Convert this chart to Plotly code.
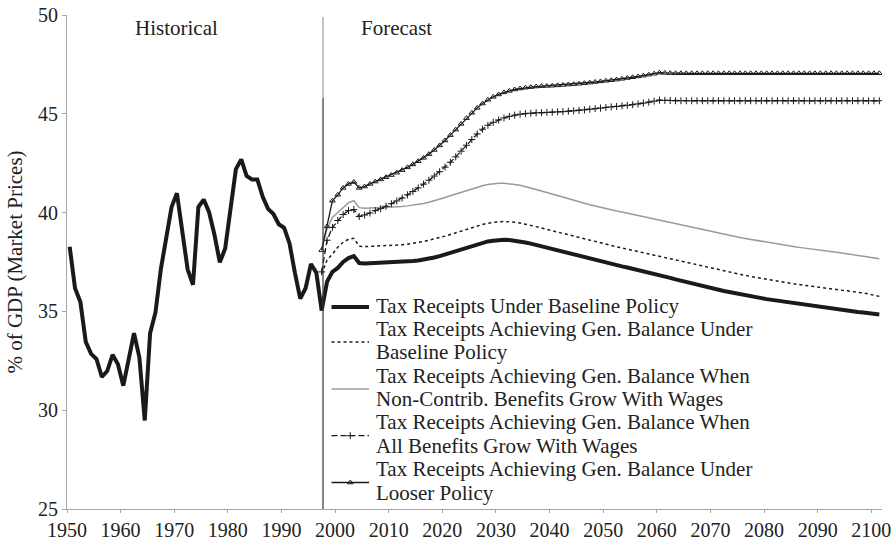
import plotly.graph_objects as go

# ---------------- data ----------------
hist_years = list(range(1950, 1998))
hist_values = [38.27, 36.17, 35.47, 33.46, 32.85, 32.59, 31.68, 31.98, 32.80, 32.33,
               31.24, 32.59, 33.90, 32.67, 29.48, 33.90, 34.95, 37.13, 38.62, 40.28,
               40.98, 39.06, 37.13, 36.35, 40.28, 40.66, 40.02, 38.88, 37.48, 38.18,
               40.28, 42.20, 42.69, 41.85, 41.68, 41.68, 40.80, 40.19, 39.93, 39.41,
               39.23, 38.44, 36.96, 35.65, 36.17, 37.40, 36.96, 35.03]

fc_years = list(range(1997, 2102))

baseline = [35.05, 36.5, 37.0, 37.2, 37.5, 37.7, 37.8, 37.45, 37.42, 37.43,
            37.44, 37.45, 37.46, 37.47, 37.48, 37.50, 37.52, 37.55, 37.58, 37.62,
            37.67, 37.73, 37.80, 37.88, 37.97, 38.06, 38.15, 38.24, 38.33, 38.41,
            38.48, 38.54, 38.58, 38.61, 38.62, 38.61, 38.58, 38.54, 38.49, 38.43,
            38.36, 38.29, 38.22, 38.15, 38.08, 38.01, 37.94, 37.87, 37.80, 37.73,
            37.66, 37.59, 37.52, 37.46, 37.40, 37.34, 37.28, 37.22, 37.16, 37.10,
            37.04, 36.98, 36.91, 36.84, 36.77, 36.70, 36.62, 36.55, 36.48, 36.41,
            36.34, 36.27, 36.21, 36.15, 36.09, 36.03, 35.98, 35.92, 35.87, 35.82,
            35.77, 35.72, 35.67, 35.62, 35.58, 35.53, 35.49, 35.44, 35.40, 35.36,
            35.32, 35.28, 35.25, 35.21, 35.18, 35.14, 35.11, 35.07, 35.04, 35.00,
            34.97, 34.94, 34.91, 34.88, 34.84]

gb_baseline = [36.9, 37.6, 37.9, 38.25, 38.5, 38.65, 38.7, 38.3, 38.28, 38.29,
               38.30, 38.31, 38.32, 38.33, 38.35, 38.37, 38.40, 38.44, 38.49, 38.54,
               38.60, 38.66, 38.73, 38.81, 38.89, 38.98, 39.07, 39.16, 39.25, 39.33,
               39.40, 39.46, 39.51, 39.54, 39.55, 39.54, 39.51, 39.47, 39.42, 39.36,
               39.29, 39.22, 39.15, 39.08, 39.01, 38.94, 38.87, 38.80, 38.73, 38.66,
               38.59, 38.52, 38.45, 38.39, 38.33, 38.27, 38.21, 38.15, 38.09, 38.03,
               37.97, 37.91, 37.85, 37.79, 37.72, 37.65, 37.58, 37.51, 37.45, 37.39,
               37.33, 37.27, 37.21, 37.15, 37.09, 37.04, 36.98, 36.92, 36.87, 36.82,
               36.77, 36.72, 36.67, 36.62, 36.57, 36.53, 36.48, 36.44, 36.40, 36.36,
               36.32, 36.28, 36.24, 36.20, 36.17, 36.13, 36.10, 36.07, 36.04, 36.01,
               35.97, 35.93, 35.88, 35.83, 35.76]

gb_noncontrib = [38.2, 39.2, 39.75, 40.0, 40.3, 40.5, 40.6, 40.25, 40.22, 40.23,
                 40.24, 40.25, 40.26, 40.27, 40.29, 40.31, 40.34, 40.37, 40.41, 40.46,
                 40.52, 40.59, 40.67, 40.76, 40.85, 40.94, 41.03, 41.12, 41.21, 41.29,
                 41.36, 41.42, 41.46, 41.48, 41.48, 41.46, 41.42, 41.38, 41.32, 41.25,
                 41.17, 41.09, 41.01, 40.93, 40.85, 40.77, 40.69, 40.61, 40.54, 40.47,
                 40.40, 40.33, 40.26, 40.20, 40.14, 40.08, 40.03, 39.97, 39.92, 39.86,
                 39.81, 39.75, 39.69, 39.63, 39.57, 39.50, 39.44, 39.38, 39.31, 39.25,
                 39.18, 39.12, 39.06, 39.01, 38.96, 38.90, 38.85, 38.80, 38.74, 38.69,
                 38.64, 38.59, 38.54, 38.50, 38.46, 38.41, 38.37, 38.32, 38.28, 38.24,
                 38.20, 38.16, 38.13, 38.09, 38.06, 38.02, 37.99, 37.96, 37.92, 37.89,
                 37.85, 37.80, 37.76, 37.71, 37.66]

gb_allbenefits = [37.0, 38.6, 39.25, 39.6, 39.9, 40.1, 40.15, 39.8, 39.88, 39.98,
                  40.10, 40.20, 40.32, 40.45, 40.59, 40.74, 40.90, 41.07, 41.25, 41.44,
                  41.64, 41.85, 42.07, 42.30, 42.55, 42.82, 43.11, 43.41, 43.70, 43.98,
                  44.22, 44.42, 44.57, 44.69, 44.79, 44.87, 44.93, 44.98, 45.01, 45.03,
                  45.05, 45.06, 45.07, 45.08, 45.10, 45.11, 45.13, 45.15, 45.17, 45.20,
                  45.23, 45.26, 45.29, 45.32, 45.35, 45.37, 45.40, 45.43, 45.46, 45.50,
                  45.54, 45.59, 45.64, 45.69, 45.68, 45.67, 45.66, 45.66, 45.66, 45.66,
                  45.66, 45.66, 45.66, 45.66, 45.66, 45.66, 45.66, 45.66, 45.66, 45.66,
                  45.66, 45.66, 45.66, 45.66, 45.66, 45.66, 45.66, 45.66, 45.66, 45.66,
                  45.66, 45.66, 45.66, 45.66, 45.66, 45.66, 45.66, 45.66, 45.66, 45.66,
                  45.66, 45.66, 45.66, 45.66, 45.66]

gb_looser = [38.1, 39.3, 40.6, 40.9, 41.25, 41.45, 41.55, 41.25, 41.32, 41.45,
             41.57, 41.68, 41.79, 41.90, 42.02, 42.15, 42.29, 42.44, 42.60, 42.77,
             42.96, 43.17, 43.40, 43.65, 43.92, 44.20, 44.49, 44.78, 45.05, 45.30,
             45.52, 45.71, 45.86, 45.98, 46.08, 46.16, 46.23, 46.28, 46.32, 46.35,
             46.38, 46.40, 46.41, 46.42, 46.44, 46.46, 46.48, 46.50, 46.52, 46.55,
             46.58, 46.61, 46.64, 46.67, 46.70, 46.73, 46.77, 46.81, 46.85, 46.89,
             46.93, 46.98, 47.03, 47.08, 47.07, 47.06, 47.05, 47.05, 47.05, 47.05,
             47.05, 47.05, 47.05, 47.05, 47.05, 47.05, 47.05, 47.05, 47.05, 47.05,
             47.05, 47.05, 47.05, 47.05, 47.05, 47.05, 47.05, 47.05, 47.05, 47.05,
             47.05, 47.05, 47.05, 47.05, 47.05, 47.05, 47.05, 47.05, 47.05, 47.05,
             47.05, 47.05, 47.05, 47.05, 47.05]

legend_labels = [
    "Tax Receipts Under Baseline Policy",
    "Tax Receipts Achieving Gen. Balance Under<br>Baseline Policy",
    "Tax Receipts Achieving Gen. Balance When<br>Non-Contrib. Benefits Grow With Wages",
    "Tax Receipts Achieving Gen. Balance When<br>All Benefits Grow With Wages",
    "Tax Receipts Achieving Gen. Balance Under<br>Looser Policy",
]

x_tick_vals = list(range(1950, 2101, 10))
y_tick_vals = [25, 30, 35, 40, 45, 50]
region_labels = ["Historical", "Forecast"]
region_label_x = [1970.5, 2011.5]
divider_year = 1997.75

# ---------------- styling ----------------
FONT = "Liberation Serif, Times New Roman, serif"
TXT = "#222222"
DARK = "#1a1a1a"
GREY = "#9a9a9a"
AX = "#a6a6a6"

W, H = 896, 541
ML, MR, MT, MB = 67, 14, 15, 32
plot_w = W - ML - MR
plot_h = H - MT - MB


def px_x(p):
    return (p - ML) / plot_w


def px_y(p):
    return (H - MB - p) / plot_h


mid = 0.5  # data points sit in the middle of each year
hx = [y + mid for y in hist_years]
fx = [y + mid for y in fc_years]

styles = [
    dict(line=dict(color=DARK, width=4), mode="lines"),
    dict(line=dict(color=DARK, width=1.5, dash="3px,3px"), mode="lines"),
    dict(line=dict(color=GREY, width=1.5), mode="lines"),
    dict(line=dict(color=DARK, width=1.3, dash="6px,3px"), mode="lines+markers",
         marker=dict(symbol="cross-thin", size=5, line=dict(color=DARK, width=1))),
    dict(line=dict(color=DARK, width=1.3), mode="lines+markers",
         marker=dict(symbol="triangle-up-open", size=5, color=DARK, line=dict(width=1))),
]
series = [baseline, gb_baseline, gb_noncontrib, gb_allbenefits, gb_looser]

fig = go.Figure()

fig.add_trace(go.Scatter(x=hx, y=hist_values, showlegend=False, hoverinfo="skip",
                         **styles[0]))

# draw in an order so the thick baseline stays on top
order = [2, 1, 3, 4, 0]
for i in order:
    fig.add_trace(go.Scatter(x=fx, y=series[i], name=legend_labels[i].replace("<br>", " "),
                             showlegend=False, **styles[i]))

# ---------------- hand-built legend (compact line spacing as in the original) ----
sym_x0, sym_x1 = px_x(331.5), px_x(369)
text_x = px_x(374)
first_line_px = 305.5
line_pitch = 23.4
annotations = []
cur = first_line_px
for i, lab in enumerate(legend_labels):
    lines = lab.split("<br>")
    ys = []
    for j, ln in enumerate(lines):
        ys.append(cur)
        annotations.append(dict(x=text_x, y=px_y(cur), xref="paper", yref="paper",
                                text=ln, showarrow=False, xanchor="left",
                                yanchor="middle",
                                font=dict(family=FONT, size=21, color=TXT)))
        cur += line_pitch
    sym_y = px_y((ys[0] + ys[-1]) / 2 + 1.5)
    st = dict(styles[i])
    fig.add_trace(go.Scatter(x=[sym_x0, sym_x1], y=[sym_y, sym_y], xaxis="x2", yaxis="y2",
                             mode="lines", line=st["line"], showlegend=False,
                             hoverinfo="skip"))
    if "marker" in st:
        fig.add_trace(go.Scatter(x=[(sym_x0 + sym_x1) / 2], y=[sym_y], xaxis="x2",
                                 yaxis="y2", mode="markers", marker=st["marker"],
                                 showlegend=False, hoverinfo="skip"))

for lab, xv in zip(region_labels, region_label_x):
    annotations.append(dict(x=xv, y=px_y(28), xref="x", yref="paper", text=lab,
                            showarrow=False, xanchor="center", yanchor="middle",
                            font=dict(family=FONT, size=21, color=TXT)))

shapes = [
    dict(type="line", xref="x", yref="y", x0=divider_year, x1=divider_year,
         y0=45.8, y1=49.9, line=dict(color="#8a8a8a", width=1)),
    dict(type="line", xref="x", yref="y", x0=divider_year, x1=divider_year,
         y0=25, y1=45.8, line=dict(color="#333333", width=1.2)),
]

fig.update_layout(
    width=W, height=H,
    margin=dict(l=ML, r=MR, t=MT, b=MB, autoexpand=False),
    paper_bgcolor="white", plot_bgcolor="white",
    font=dict(family=FONT, color=TXT, size=20),
    annotations=annotations, shapes=shapes,
    xaxis=dict(range=[1950, 2102], tickvals=x_tick_vals, showgrid=False, zeroline=False,
               showline=True, linecolor=AX, linewidth=1, ticks="outside", ticklen=3,
               tickcolor=AX, tickfont=dict(family=FONT, size=20, color=TXT)),
    yaxis=dict(range=[25, 50], tickvals=y_tick_vals, showgrid=False, zeroline=False,
               showline=True, linecolor=AX, linewidth=1, ticks="outside", ticklen=4,
               tickcolor=AX, tickfont=dict(family=FONT, size=20, color=TXT),
               title=dict(text="% of GDP (Market Prices)", standoff=9,
                          font=dict(family=FONT, size=21, color=TXT))),
    xaxis2=dict(range=[0, 1], overlaying="x", visible=False, fixedrange=True),
    yaxis2=dict(range=[0, 1], overlaying="y", visible=False, fixedrange=True),
)

fig.write_html("out.html")
